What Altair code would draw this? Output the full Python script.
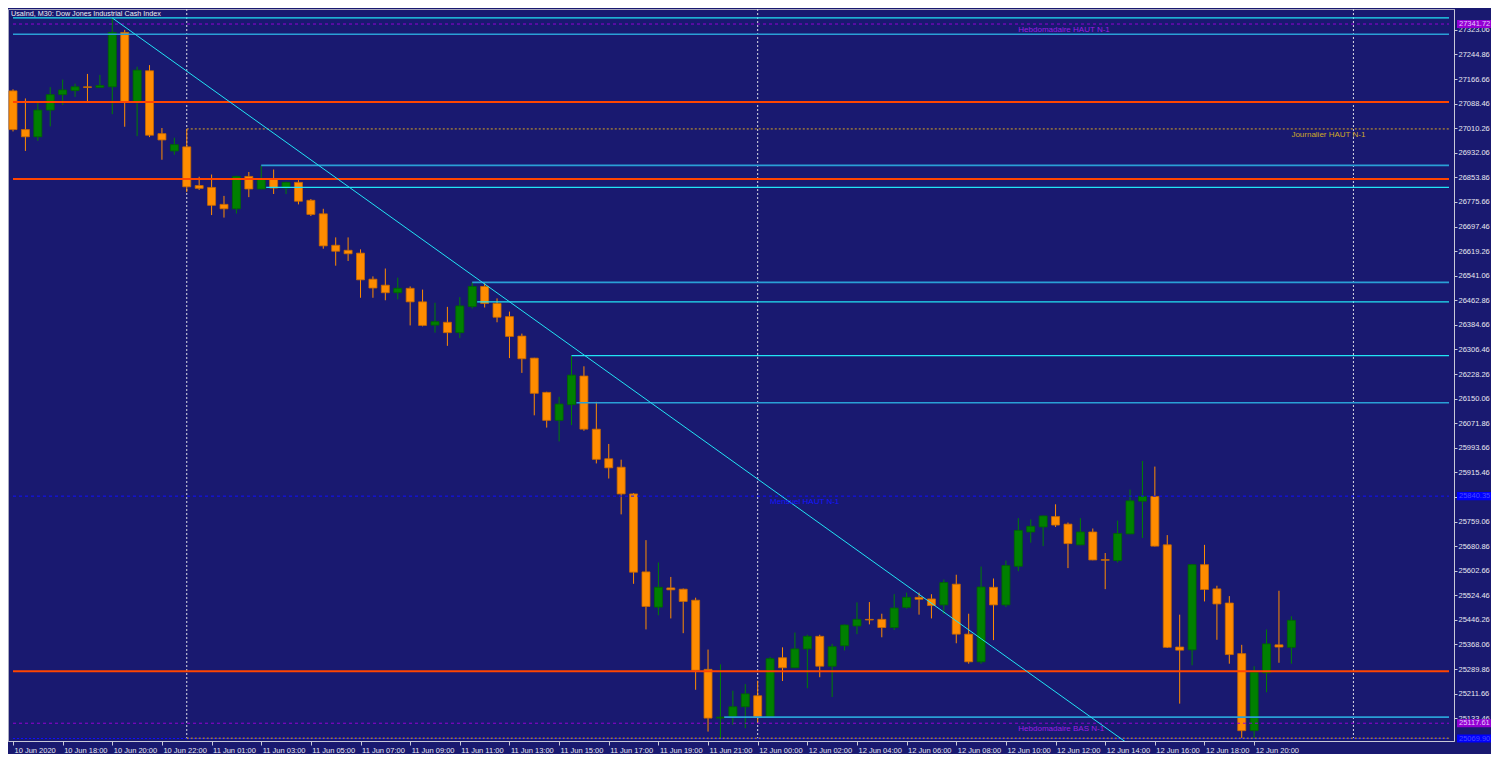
import altair as alt
import pandas as pd

# UsaInd M30 candles, bar 0 = 10 Jun 16:00
opens = [27129, 27006, 26983, 27068, 27117, 27130, 27142, 27140, 27142, 27315,
         27092, 27193, 26993, 26938, 26951, 26828, 26822, 26768, 26754, 26857,
         26817, 26850, 26820, 26838, 26781, 26738, 26638, 26622, 26613, 26530,
         26511, 26487, 26501, 26458, 26384, 26393, 26360, 26443, 26507, 26453,
         26411, 26349, 26279, 26170, 26081, 26131, 26222, 26053, 25959, 25932,
         25847, 25599, 25487, 25548, 25544, 25509, 25289, 25134, 25139, 25170,
         25205, 25138, 25326, 25294, 25354, 25394, 25299, 25364, 25427, 25448,
         25448, 25422, 25486, 25518, 25513, 25494, 25560, 25401, 25313, 25550,
         25494, 25617, 25726, 25742, 25775, 25751, 25685, 25726, 25638, 25635,
         25720, 25824, 25839, 25685, 25360, 25351, 25622, 25545, 25500, 25339,
         25094, 25278, 25367, 25359]
highs = [27134, 27105, 27094, 27141, 27165, 27152, 27183, 27180, 27361, 27323,
         27206, 27211, 27011, 26980, 27008, 26856, 26863, 26795, 26859, 26871,
         26892, 26879, 26840, 26845, 26785, 26754, 26663, 26663, 26625, 26539,
         26564, 26535, 26507, 26497, 26455, 26442, 26473, 26521, 26518, 26469,
         26427, 26357, 26280, 26172, 26156, 26286, 26253, 26140, 26006, 25956,
         25850, 25700, 25629, 25583, 25546, 25517, 25352, 25305, 25221, 25242,
         25253, 25328, 25359, 25406, 25399, 25399, 25370, 25432, 25502, 25503,
         25466, 25528, 25533, 25533, 25528, 25575, 25590, 25466, 25616, 25578,
         25635, 25770, 25766, 25778, 25814, 25756, 25770, 25737, 25659, 25762,
         25861, 25952, 25934, 25716, 25463, 25624, 25685, 25555, 25522, 25367,
         25299, 25416, 25539, 25458]
lows = [27000, 26938, 26970, 27016, 27084, 27110, 27092, 27140, 27055, 27015,
        26985, 26982, 26910, 26926, 26807, 26814, 26734, 26726, 26739, 26791,
        26816, 26801, 26801, 26768, 26731, 26627, 26573, 26588, 26471, 26471,
        26463, 26466, 26383, 26380, 26360, 26318, 26343, 26437, 26440, 26393,
        26279, 26232, 26097, 26058, 26014, 26066, 26048, 25944, 25896, 25782,
        25561, 25416, 25461, 25451, 25404, 25224, 25091, 25070, 25113, 25102,
        25120, 25137, 25252, 25293, 25229, 25264, 25201, 25349, 25401, 25432,
        25391, 25414, 25482, 25463, 25451, 25465, 25372, 25307, 25307, 25382,
        25487, 25601, 25692, 25681, 25742, 25611, 25684, 25636, 25544, 25629,
        25719, 25707, 25680, 25357, 25180, 25302, 25505, 25383, 25307, 25071,
        25071, 25216, 25310, 25307]
closes = [27006, 26983, 27068, 27117, 27132, 27142, 27140, 27146, 27315, 27092,
          27195, 26988, 26973, 26958, 26824, 26819, 26765, 26754, 26857, 26817,
          26850, 26820, 26838, 26778, 26736, 26636, 26619, 26611, 26528, 26502,
          26487, 26501, 26458, 26383, 26395, 26360, 26445, 26507, 26453, 26409,
          26348, 26277, 26167, 26081, 26133, 26225, 26053, 25957, 25930, 25847,
          25598, 25489, 25550, 25542, 25505, 25286, 25134, 25137, 25170, 25211,
          25138, 25323, 25294, 25354, 25394, 25299, 25361, 25430, 25448, 25446,
          25422, 25484, 25518, 25512, 25492, 25565, 25401, 25313, 25551, 25494,
          25619, 25731, 25744, 25777, 25748, 25689, 25726, 25637, 25636, 25721,
          25825, 25839, 25681, 25359, 25350, 25622, 25543, 25497, 25336, 25094,
          25280, 25370, 25360, 25445]

x_labels = ["10 Jun 2020", "10 Jun 18:00", "10 Jun 20:00", "10 Jun 22:00",
            "11 Jun 01:00", "11 Jun 03:00", "11 Jun 05:00", "11 Jun 07:00",
            "11 Jun 09:00", "11 Jun 11:00", "11 Jun 13:00", "11 Jun 15:00",
            "11 Jun 17:00", "11 Jun 19:00", "11 Jun 21:00", "12 Jun 00:00",
            "12 Jun 02:00", "12 Jun 04:00", "12 Jun 06:00", "12 Jun 08:00",
            "12 Jun 10:00", "12 Jun 12:00", "12 Jun 14:00", "12 Jun 16:00",
            "12 Jun 18:00", "12 Jun 20:00"]
x_ticks = list(range(0, 101, 4))
y_ticks = [25133.46, 25211.66, 25289.86, 25368.06, 25446.26, 25524.46, 25602.66,
           25680.86, 25759.06, 25837.26, 25915.46, 25993.66, 26071.86, 26150.06,
           26228.26, 26306.46, 26384.66, 26462.86, 26541.06, 26619.26, 26697.46,
           26775.66, 26853.86, 26932.06, 27010.26, 27088.46, 27166.66, 27244.86,
           27323.06]

# horizontal levels drawn on the chart
level_price = [27361, 27341.72, 27309, 27094, 27008, 26892, 26849, 26822, 26520,
               26458, 26287, 26137, 25840, 25283, 25137, 25117.61, 25069, 25070]
level_start = [0, 0, 0, 0, 14, 20, 0, 20.4, 37, 37.4, 45, 45.4, 0, 0, 57.3, 0, 0, 14]
level_color = ["#22e4f4", "#9400d3", "#2a9fd6", "#ff4500", "#daa520", "#2a9fd6",
               "#ff4500", "#22e4f4", "#2a9fd6", "#22e4f4", "#22e4f4", "#2a9fd6",
               "#1010ff", "#ff4500", "#2a9fd6", "#9400d3", "#1010ff", "#daa520"]
level_width = [1.2, 1, 1.6, 2, 1, 1.6, 2, 1.2, 1.6, 1.2, 1.2, 1.6, 1, 2, 1.6, 1, 1, 1]
level_style = ["solid", "dot3", "solid", "solid", "dot2", "solid", "solid", "solid",
               "solid", "solid", "solid", "solid", "dot3", "solid", "solid", "dot3",
               "dot2", "dot2"]

label_text = ["Hebdomadaire HAUT N-1", "Journalier HAUT N-1", "Mensuel HAUT N-1",
              "Hebdomadaire BAS N-1", "Journalier BAS N-1"]
label_bar = [81.0, 103.0, 61.0, 81.0, 103.0]
label_price = [27341.72, 27008, 25840, 25117.61, 25070]
label_color = ["#9a1ee0", "#d0a828", "#1414ff", "#9a1ee0", "#d0a828"]

tag_price = [27341.72, 25840, 25117.61, 25069]
tag_text = ["27341.72", "25840.35", "25117.61", "25069.90"]
tag_fill = ["#9400d3", "#0000ff", "#9400d3", "#0000ff"]
tag_ink = ["#e6c8ff", "#4a4aff", "#e6c8ff", "#4a4aff"]

trend_bar = [8, 90]
trend_price = [27361, 25048]
separator_bar = [14, 60, 108]

W, H = 1446, 732
XMAX = 115.7
FONT = "Liberation Sans"

candles = pd.DataFrame({"bar": range(len(opens)), "open": opens, "high": highs,
                        "low": lows, "close": closes})
candles["dir"] = ["up" if c > o else "down" for o, c in zip(opens, closes)]

levels = pd.DataFrame({"price": level_price, "start": level_start, "end": XMAX,
                       "color": level_color, "w": level_width, "style": level_style})
labels = pd.DataFrame({"text": label_text, "bar": label_bar, "price": label_price,
                       "color": label_color})
tags = pd.DataFrame({"price": tag_price, "text": tag_text, "fill": tag_fill, "ink": tag_ink})
trend = pd.DataFrame({"bar": trend_bar, "price": trend_price})
seps = pd.DataFrame({"bar": separator_bar})

xs = alt.Scale(domain=[0, XMAX], nice=False, zero=False)
ys = alt.Scale(domain=[25061.1, 27389.5], nice=False, zero=False)
label_js = "[" + ",".join("'%s'" % s for s in x_labels) + "][round(datum.value / 4)]"
xa = alt.Axis(values=x_ticks, labelExpr=label_js, title=None, labelAlign="left",
              labelBaseline="top", labelPadding=1, tickSize=4, labelOffset=1,
              labelFlush=False, labelOverlap=False, grid=False)
ya = alt.Axis(orient="right", values=y_ticks, format=".2f", title=None, tickSize=3,
              labelPadding=1, labelBaseline="middle", labelFlush=False,
              labelOverlap=False, grid=False)


def X(f):
    return alt.X(f, type="quantitative", scale=xs, axis=xa)


def Y(f):
    return alt.Y(f, type="quantitative", scale=ys, axis=ya)


dir_color = alt.Color("dir:N", scale=alt.Scale(domain=["up", "down"],
                                               range=["#008000", "#ff8c00"]), legend=None)
dir_stroke = alt.Stroke("dir:N", scale=alt.Scale(domain=["up", "down"],
                                                 range=["#006400", "#c86a00"]), legend=None)

wicks = alt.Chart(candles).mark_rule(clip=True, strokeWidth=1).encode(
    x=X("bar"), y=Y("low"), y2="high", color=dir_color)
bodies = alt.Chart(candles).mark_bar(size=8, clip=True, strokeWidth=0.8).encode(
    x=X("bar"), y=Y("open"), y2="close", color=dir_color, stroke=dir_stroke)

seplines = alt.Chart(seps).mark_rule(color="#dcdce6", strokeWidth=1,
                                     strokeDash=[2, 2]).encode(x=X("bar"))


def level_layer(style, dash):
    m = {"clip": True}
    if dash:
        m["strokeDash"] = dash
    return alt.Chart(levels).transform_filter(alt.datum.style == style).mark_rule(**m).encode(
        x=X("start"), x2="end", y=Y("price"),
        color=alt.Color("color:N", scale=None),
        strokeWidth=alt.StrokeWidth("w:Q", scale=None))


trendline = alt.Chart(trend).mark_line(clip=True, color="#22e4f4", strokeWidth=1).encode(
    x=X("bar"), y=Y("price"))

line_labels = alt.Chart(labels).mark_text(align="left", baseline="top", dy=2, fontSize=8,
                                          font=FONT, clip=True).encode(
    x=X("bar"), y=Y("price"), text="text:N", color=alt.Color("color:N", scale=None))

tag_boxes = alt.Chart(tags).transform_calculate(
    lo="datum.price - 13", hi="datum.price + 13").mark_rect().encode(
    x=alt.value(W + 3), x2=alt.value(W + 37), y=Y("lo"), y2="hi",
    color=alt.Color("fill:N", scale=None))
tag_texts = alt.Chart(tags).mark_text(align="left", baseline="middle", fontSize=7.5,
                                      font=FONT).encode(
    x=alt.value(W + 5), y=Y("price"), text="text:N", color=alt.Color("ink:N", scale=None))

header = alt.Chart(pd.DataFrame({"t": ["UsaInd, M30:  Dow Jones Industrial Cash Index"]})).mark_text(
    align="left", baseline="middle", fontSize=7.2, font=FONT, color="#f0f0f0").encode(
    x=alt.value(3), y=alt.value(5), text="t:N")

chart = alt.layer(
    seplines, wicks, bodies,
    level_layer("solid", None), level_layer("dot3", [3, 3]), level_layer("dot2", [2, 2]),
    trendline, line_labels, tag_boxes, tag_texts, header,
).properties(
    width=W, height=H, background="#191970",
    padding={"left": 0, "top": 0, "right": 0, "bottom": 0},
).configure_view(
    fill="#191970", stroke="#a8a8c0", strokeWidth=1,
).configure_axis(
    domainColor="#c8c8d8", tickColor="#c8c8d8", labelColor="#e8e8f0",
    labelFont=FONT, labelFontSize=7.5,
)

chart.save("out.html", embed_options={"renderer": "svg", "actions": False})
